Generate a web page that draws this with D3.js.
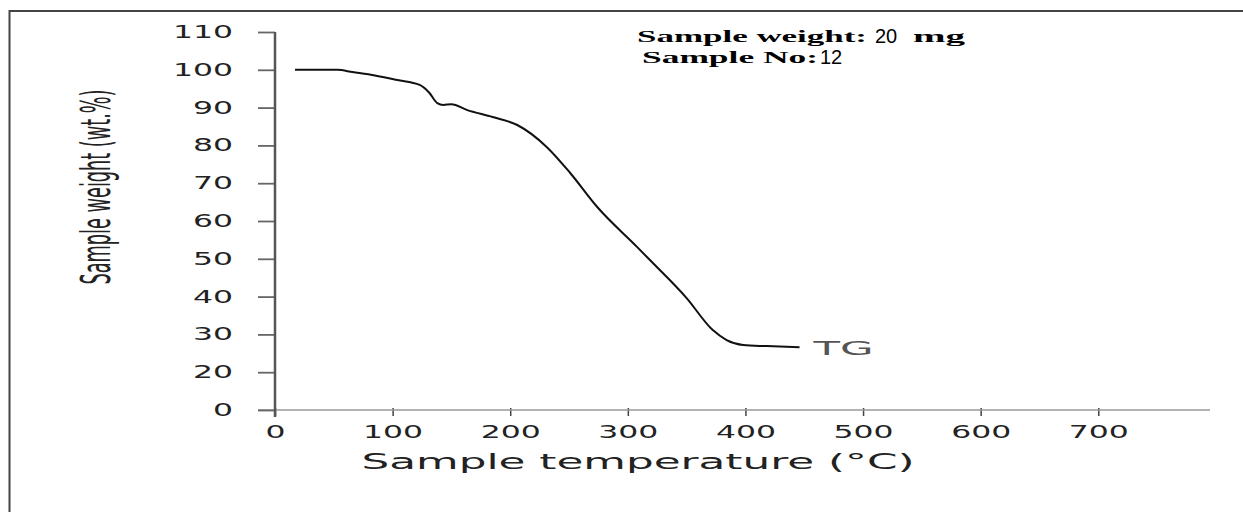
<!DOCTYPE html>
<html lang="en">
<head>
  <meta charset="UTF-8" />
  <title>TG curve</title>
  <script src="https://cdn.jsdelivr.net/npm/d3@7"></script>
  <style>
    body { margin: 0; background: #fff; }
  </style>
</head>
<body>
<script>
  // TG curve
  const tempC = [17, 53, 66, 85, 104, 123, 131, 138, 143, 150, 163, 185, 206, 231, 251, 274, 308, 319, 350, 372, 384, 398, 418, 446];
  const weightPct = [100, 100, 99.4, 98.5, 97.3, 96.0, 94.0, 91.2, 90.7, 90.9, 89.4, 87.5, 85.4, 79.6, 72.7, 63.7, 53.1, 49.6, 39.6, 31.2, 28.5, 27.2, 26.9, 26.6];

  const xTicks = [0, 100, 200, 300, 400, 500, 600, 700];
  // the lowest tick is printed as "0" in the original figure
  const yTicks = [10, 20, 30, 40, 50, 60, 70, 80, 90, 100, 110];
  const yTickLabels = ["0", "20", "30", "40", "50", "60", "70", "80", "90", "100", "110"];

  const width = 1243;
  const height = 512;

  const svg = d3.select('body')
    .append('svg')
    .attr('width', width)
    .attr('height', height);

  // frame
  svg.append('rect')
    .attr('x', 9.5).attr('y', 11)
    .attr('width', 1260).attr('height', 520)
    .attr('fill', 'none')
    .attr('stroke', '#444')
    .attr('stroke-width', 2);

  const x = d3.scaleLinear().domain([0, 795]).range([275, 1210]);
  const y = d3.scaleLinear().domain([10, 110]).range([410, 32]);

  // x axis
  const xAxis = svg.append('g')
    .attr('transform', `translate(0,${y(10)})`)
    .call(d3.axisBottom(x).tickValues(xTicks).tickSize(6).tickSizeOuter(0).tickFormat(d3.format('d')));
  xAxis.select('.domain').remove();
  xAxis.append('line')
    .attr('x1', 258).attr('x2', x(795))
    .attr('stroke', '#999').attr('stroke-width', 1.5);
  xAxis.selectAll('.tick line')
    .attr('y1', -2).attr('y2', 6)
    .attr('stroke', '#444').attr('stroke-width', 1.5);
  xAxis.selectAll('.tick text')
    .attr('y', 28).attr('dy', null)
    .attr('fill', '#222')
    .style('font-family', 'DejaVu Sans')
    .style('font-size', '17px')
    .attr('textLength', d => String(d).length * 20)
    .attr('lengthAdjust', 'spacingAndGlyphs');

  // y axis
  const yAxis = svg.append('g')
    .attr('transform', `translate(${x(0)},0)`)
    .call(d3.axisLeft(y).tickValues(yTicks).tickSize(17).tickPadding(25)
      .tickFormat((d, i) => yTickLabels[i]));
  yAxis.select('.domain').remove();
  yAxis.selectAll('.tick line')
    .attr('stroke', '#666').attr('stroke-width', 1.8);
  yAxis.selectAll('.tick text')
    .attr('fill', '#222')
    .style('font-family', 'DejaVu Sans')
    .style('font-size', '17px')
    .attr('textLength', (d, i) => yTickLabels[i].length * 20)
    .attr('lengthAdjust', 'spacingAndGlyphs');
  yAxis.append('line')
    .attr('y1', y(110)).attr('y2', 417)
    .attr('stroke', '#555').attr('stroke-width', 2.5);

  // axis titles
  svg.append('text')
    .attr('x', 638).attr('y', 469)
    .attr('text-anchor', 'middle')
    .attr('fill', '#222')
    .style('font-family', 'DejaVu Sans')
    .style('font-size', '21px')
    .attr('textLength', 553)
    .attr('lengthAdjust', 'spacingAndGlyphs')
    .text('Sample temperature (°C)');

  // condensed y title: squeeze with a scale so its box stays true
  const yTitle = svg.append('text')
    .attr('text-anchor', 'middle')
    .attr('fill', '#222')
    .style('font-family', 'DejaVu Sans Condensed, DejaVu Sans')
    .style('font-size', '40px')
    .text('Sample weight (wt.%)');
  const sx = 195 / yTitle.node().getComputedTextLength();
  yTitle.attr('transform', `translate(110,187) rotate(-90) scale(${sx},1)`);

  // curve
  const pts = tempC.map((t, i) => [t, weightPct[i]]);
  const line = d3.line()
    .x(d => x(d[0]))
    .y(d => y(d[1]))
    .curve(d3.curveMonotoneX);

  svg.append('path')
    .datum(pts)
    .attr('d', line)
    .attr('fill', 'none')
    .attr('stroke', '#111')
    .attr('stroke-width', 2);

  svg.append('text')
    .attr('x', x(458)).attr('y', y(26.6) + 8)
    .attr('fill', '#555')
    .style('font-family', 'DejaVu Sans')
    .style('font-size', '20px')
    .attr('textLength', 60)
    .attr('lengthAdjust', 'spacingAndGlyphs')
    .text('TG');

  // sample info
  const info = svg.append('g');
  info.append('text')
    .attr('x', 637).attr('y', 42)
    .style('font-family', 'Liberation Serif').style('font-weight', 'bold').style('font-size', '16px')
    .attr('textLength', 230).attr('lengthAdjust', 'spacingAndGlyphs')
    .text('Sample weight:');
  info.append('text')
    .attr('x', 875).attr('y', 43)
    .style('font-family', 'Liberation Sans').style('font-size', '20px')
    .text('20');
  info.append('text')
    .attr('x', 913).attr('y', 42)
    .style('font-family', 'Liberation Serif').style('font-weight', 'bold').style('font-size', '16px')
    .attr('textLength', 52).attr('lengthAdjust', 'spacingAndGlyphs')
    .text('mg');
  info.append('text')
    .attr('x', 642).attr('y', 63)
    .style('font-family', 'Liberation Serif').style('font-weight', 'bold').style('font-size', '16px')
    .attr('textLength', 176).attr('lengthAdjust', 'spacingAndGlyphs')
    .text('Sample No:');
  info.append('text')
    .attr('x', 820).attr('y', 64)
    .style('font-family', 'Liberation Sans').style('font-size', '20px')
    .text('12');
</script>
</body>
</html>
